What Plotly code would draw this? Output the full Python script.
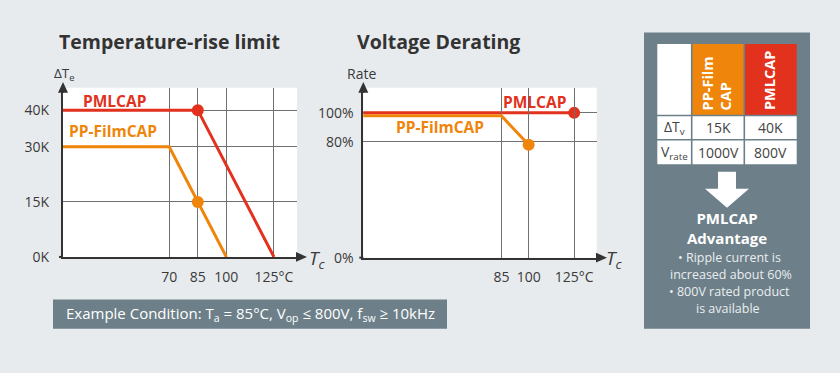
import plotly.graph_objects as go

# ---------------- data ----------------
# Chart 1: Temperature-rise limit (ΔTe vs case temperature)
rise_t_ticks = [70, 85, 100, 125]
rise_t_ticktext = ["70", "85", "100", "125°C"]
rise_dt_ticks = [0, 15, 30, 40]
rise_dt_ticktext = ["0K", "15K", "30K", "40K"]

pml_rise_T = [0, 85, 125]
pml_rise_dT = [40, 40, 0]
film_rise_T = [0, 70, 100]
film_rise_dT = [30, 30, 0]
pml_rise_mark_T, pml_rise_mark_dT = [85], [40]
film_rise_mark_T, film_rise_mark_dT = [85], [15]

# Chart 2: Voltage derating (rate vs case temperature)
rate_t_ticks = [85, 100, 125]
rate_t_ticktext = ["85", "100", "125°C"]
rate_ticks = [0, 80, 100]
rate_ticktext = ["0%", "80%", "100%"]

pml_rate_T = [0, 125]
pml_rate = [100, 100]
film_rate_T = [0, 85, 100]
film_rate = [100, 100, 80]
pml_rate_mark_T, pml_rate_mark = [125], [100]
film_rate_mark_T, film_rate_mark = [100], [80]

# Comparison table
table_rows = ["ΔT<sub>v</sub>", "V<sub>rate</sub>"]
film_vals = ["15K", "1000V"]
pml_vals = ["40K", "800V"]

# ---------------- style ----------------
W, H = 840, 373
BG = "#e8ebee"
SLATE = "#6d7f88"
RED = "#e2311d"
ORANGE = "#ef850a"
DARK = "#333333"
GRID = "#707070"
FONT = "Open Sans"


def fx(px):
    return px / W


def fy(py):
    return 1 - py / H


fig = go.Figure()

# chart 1 traces
fig.add_trace(go.Scatter(x=film_rise_T, y=film_rise_dT, mode="lines",
                         line=dict(color=ORANGE, width=3), xaxis="x", yaxis="y"))
fig.add_trace(go.Scatter(x=pml_rise_T, y=pml_rise_dT, mode="lines",
                         line=dict(color=RED, width=3), xaxis="x", yaxis="y"))
fig.add_trace(go.Scatter(x=film_rise_mark_T, y=film_rise_mark_dT, mode="markers",
                         marker=dict(color=ORANGE, size=12), xaxis="x", yaxis="y", cliponaxis=False))
fig.add_trace(go.Scatter(x=pml_rise_mark_T, y=pml_rise_mark_dT, mode="markers",
                         marker=dict(color=RED, size=12), xaxis="x", yaxis="y", cliponaxis=False))

# chart 2 traces (orange drawn on a twin axis shifted 3px lower so both lines show)
fig.add_trace(go.Scatter(x=pml_rate_T, y=pml_rate, mode="lines",
                         line=dict(color=RED, width=3), xaxis="x2", yaxis="y2"))
fig.add_trace(go.Scatter(x=pml_rate_mark_T, y=pml_rate_mark, mode="markers",
                         marker=dict(color=RED, size=12), xaxis="x2", yaxis="y2", cliponaxis=False))
fig.add_trace(go.Scatter(x=film_rate_T, y=film_rate, mode="lines",
                         line=dict(color=ORANGE, width=3), xaxis="x2", yaxis="y3"))
fig.add_trace(go.Scatter(x=film_rate_mark_T, y=film_rate_mark, mode="markers",
                         marker=dict(color=ORANGE, size=12), xaxis="x2", yaxis="y3", cliponaxis=False))

# geometry of plot areas (px)
c1 = dict(l=63, r=297, t=90, b=263.3)
c2 = dict(l=363.3, r=596.7, t=90, b=264)
x1_range = [14.2, 137.1]
y1_range = [0, (c1["b"] - c1["t"]) / 3.76]
x2_range = [9.1, 137.4]
y2_range = [0, 117.3]
shift = 3.0
y2_scale = (c2["b"] - c2["t"]) / (y2_range[1] - y2_range[0])
y3_range = [y2_range[0] + shift / y2_scale, y2_range[1]]

axis_common = dict(showline=True, linecolor=DARK, linewidth=2, zeroline=False,
                   showgrid=True, gridcolor=GRID, gridwidth=1, ticks="",
                   tickfont=dict(family=FONT, size=14, color="#3a3a3a"),
                   fixedrange=True, layer="above traces")

fig.update_layout(
    width=W, height=H, margin=dict(l=0, r=0, t=0, b=0), autosize=False,
    paper_bgcolor=BG, plot_bgcolor="rgba(0,0,0,0)", showlegend=False,
    font=dict(family=FONT, color=DARK),
    xaxis=dict(domain=[fx(c1["l"]), fx(c1["r"])], range=x1_range, anchor="y",
               tickvals=rise_t_ticks, ticktext=rise_t_ticktext, ticklabelstandoff=6, **axis_common),
    yaxis=dict(domain=[fy(c1["b"]), fy(c1["t"])], range=y1_range, anchor="x",
               tickvals=rise_dt_ticks, ticktext=rise_dt_ticktext, ticklabelstandoff=9, **axis_common),
    xaxis2=dict(domain=[fx(c2["l"]), fx(c2["r"])], range=x2_range, anchor="y2",
                tickvals=rate_t_ticks, ticktext=rate_t_ticktext, ticklabelstandoff=6, **axis_common),
    yaxis2=dict(domain=[fy(c2["b"]), fy(c2["t"])], range=y2_range, anchor="x2",
                tickvals=rate_ticks, ticktext=rate_ticktext, ticklabelstandoff=5, **axis_common),
    yaxis3=dict(domain=[fy(c2["b"]), fy(c2["t"] + shift)], range=y3_range, anchor="x2",
                visible=False, fixedrange=True),
)

shapes = []
# white plot backgrounds
for c in (c1, c2):
    shapes.append(dict(type="rect", xref="paper", yref="paper", layer="below",
                       x0=fx(c["l"]), x1=fx(c["r"]), y0=fy(c["b"]), y1=fy(c["t"]),
                       fillcolor="white", line=dict(width=0)))


def tri(points, color=DARK):
    path = "M " + " L ".join(f"{fx(a):.5f},{fy(b):.5f}" for a, b in points) + " Z"
    return dict(type="path", xref="paper", yref="paper", path=path,
                fillcolor=color, line=dict(width=0), layer="above")


# axis arrowheads
for c, tipx in ((c1, 307), (c2, 607)):
    shapes.append(tri([(c["l"], 84), (c["l"] - 5, 95), (c["l"] + 5, 95)]))
    shapes.append(dict(type="line", xref="paper", yref="paper", x0=fx(c["l"]), x1=fx(c["l"]),
                       y0=fy(c["t"]), y1=fy(95), line=dict(color=DARK, width=2)))
    shapes.append(dict(type="line", xref="paper", yref="paper", x0=fx(c["r"]), x1=fx(tipx - 9),
                       y0=fy(c["b"]), y1=fy(c["b"]), line=dict(color=DARK, width=2)))
    shapes.append(tri([(tipx, c["b"]), (tipx - 11, c["b"] - 5), (tipx - 11, c["b"] + 5)]))
    shapes.append(dict(type="line", xref="paper", yref="paper", x0=fx(c["l"] - 4), x1=fx(c["l"]),
                       y0=fy(c["b"]), y1=fy(c["b"]), line=dict(color=DARK, width=2)))

# right panel
shapes.append(dict(type="rect", xref="paper", yref="paper", x0=fx(644), x1=fx(810),
                   y0=fy(337), y1=fy(33.3), fillcolor=SLATE, line=dict(width=0)))
cols = [657.3, 691.7, 744.3, 796.7]
rows = [45, 118.3, 143.3, 168.3]
g = 0.8
for ri in range(3):
    for ci in range(3):
        if ri == 0 and ci == 1:
            col = ORANGE
        elif ri == 0 and ci == 2:
            col = RED
        else:
            col = "white"
        shapes.append(dict(type="rect", xref="paper", yref="paper",
                           x0=fx(cols[ci] + (g if ci > 0 else 0)), x1=fx(cols[ci + 1] - (g if ci < 2 else 0)),
                           y0=fy(rows[ri + 1] - (g if ri < 2 else 0)), y1=fy(rows[ri] + (g if ri > 0 else 0)),
                           fillcolor=col, line=dict(width=0)))
# down arrow
arrow_pts = [(718, 176), (736, 176), (736, 193.5), (749, 193.5), (727, 213),
             (705, 193.5), (718, 193.5)]
shapes.append(tri(arrow_pts, "white"))

# condition box
shapes.append(dict(type="rect", xref="paper", yref="paper", x0=fx(53), x1=fx(447),
                   y0=fy(337), y1=fy(307), fillcolor=SLATE, line=dict(width=0)))

fig.update_layout(shapes=shapes)

ann = []


def txt(x, y, text, size, color=DARK, bold=False, italic=False, angle=0, xanchor="center",
        align="center"):
    t = text
    if bold:
        t = f"<b>{t}</b>"
    if italic:
        t = f"<i>{t}</i>"
    ann.append(dict(x=fx(x), y=fy(y), xref="paper", yref="paper", text=t, showarrow=False,
                    xanchor=xanchor, yanchor="middle", textangle=angle, align=align,
                    font=dict(family=FONT, size=size, color=color)))


# titles
txt(169.5, 42.5, "Temperature-rise limit", 19.5, "#333333", bold=True)
txt(438.5, 42.5, "Voltage Derating", 19.5, "#333333", bold=True)

# axis titles
txt(64, 76, "ΔT<sub>e</sub>", 13.5, "#3a3a3a")
txt(361, 75, "Rate", 14, "#3a3a3a")
txt(317, 265, "T<sub>c</sub>", 19, "#3a3a3a", italic=True)
txt(614, 265, "T<sub>c</sub>", 19, "#3a3a3a", italic=True)

# series labels
txt(115, 103, "PMLCAP", 15.5, RED, bold=True)
txt(113, 134, "PP-FilmCAP", 15.5, ORANGE, bold=True)
txt(535, 105, "PMLCAP", 15.5, RED, bold=True)
txt(439.5, 130, "PP-FilmCAP", 15.5, ORANGE, bold=True)

# condition text
txt(250, 322, "Example Condition: T<sub>a</sub> = 85°C, V<sub>op</sub> ≤ 800V, f<sub>sw</sub> ≥ 10kHz",
    15, "white")

# table header (rotated, lines start at the bottom of the cell)
txt(716.5, 86, "PP-Film<br>CAP", 14.5, "white", bold=True, angle=-90, align="left")
txt(769.5, 82.5, "PMLCAP", 14.5, "white", bold=True, angle=-90)
row_y = [131, 156]
for i in range(2):
    txt(674.5, row_y[i], table_rows[i], 14, "#444444")
    txt(718, row_y[i], film_vals[i], 14, "#444444")
    txt(770.5, row_y[i], pml_vals[i], 14, "#444444")

# panel text
txt(727, 234, "PMLCAP<br>Advantage", 15, "white", bold=True)
txt(729, 263.5, "• Ripple current is", 12.5, "#e9eef0")
txt(730.5, 281, "increased about 60%", 12.5, "#e9eef0")
txt(729, 298.5, "• 800V rated product", 12.5, "#e9eef0")
txt(728, 316, "is available", 12.5, "#e9eef0")

fig.update_layout(annotations=ann)

css_js = (
    "var s=document.createElement('style');"
    "s.textContent='html,body{margin:0!important;padding:0!important;overflow:hidden;"
    "background:#e8ebee;}';"
    "document.head.appendChild(s);"
)
fig.write_html("out.html", config={"displayModeBar": False, "responsive": False},
               post_script=css_js)
